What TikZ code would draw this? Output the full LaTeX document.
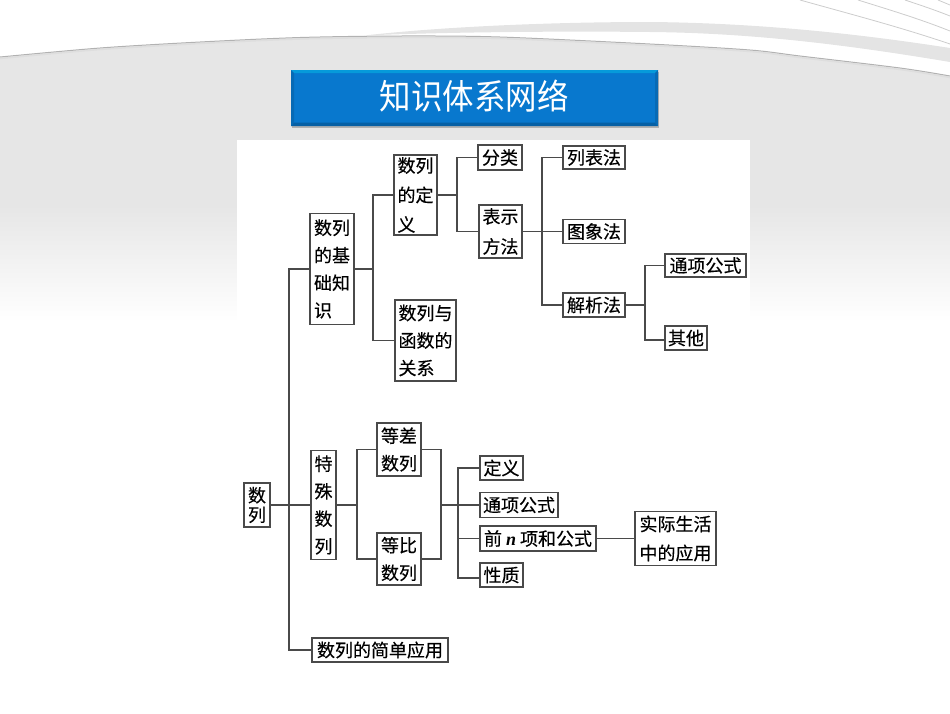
\documentclass[tikz,border=0pt]{standalone}
\usepackage{graphicx}
\usepackage{fontspec}
\setmainfont{Liberation Serif}
\newfontfamily\cjk{Noto Sans CJK SC}
\newfontfamily\cjkbox[RawFeature={embolden=0.35}]{Noto Sans CJK SC}
\definecolor{slide}{HTML}{E6E6E6}
\definecolor{band}{HTML}{E4E4E4}
\definecolor{titleblue}{HTML}{0878CE}
\definecolor{ink}{HTML}{4A4A4A}
\begin{document}
\begin{tikzpicture}[x=1pt,y=-1pt,
   box/.style={draw=ink,line width=1.4pt,fill=white,inner sep=0pt,align=left,
      font=\cjkbox\fontsize{18}{27.5}\selectfont},
   link/.style={draw=ink,line width=1.4pt},
   streak/.style={draw=black!20,line width=.8pt}]
\useasboundingbox (0,0) rectangle (950,713);
% slide background
\fill[slide] plot[smooth] coordinates {(0,57) (100,48) (200,42) (300,37.5) (400,36) (500,37) (650,44) (750,50) (800,56) (900,68) (950,76)}
   -- (950,206) -- (0,206) -- cycle;
\shade[top color=slide,bottom color=white] (0,205) rectangle (950,322);
\draw[black!30,line width=1pt] plot[smooth] coordinates {(0,57) (100,48) (200,42) (300,37.5) (400,36) (500,37) (650,44) (750,50) (800,56) (900,68) (950,76)};
\draw[black!13,line width=1.5pt] plot[smooth] coordinates {(0,58.5) (100,49.5) (200,43.5) (300,39) (400,37.5) (500,38.5) (650,45.5) (750,51.5) (800,57.5) (900,69.5) (950,77.5)};
\fill[band] (364,35.5) .. controls (450,26) and (560,22) .. (650,22)
   .. controls (760,23) and (860,34) .. (950,48) -- (950,62)
   .. controls (860,47) and (760,33) .. (650,32)
   .. controls (560,31) and (450,32) .. (364,35.5) -- cycle;
\draw[streak] (800,0) .. controls (850,14) and (900,27) .. (950,44);
\draw[streak] (858,0) .. controls (890,10) and (920,19) .. (950,31);
\draw[streak] (905,0) .. controls (920,5) and (935,10) .. (950,16);
\draw[streak] (938,0) -- (950,5);
% title bar
\fill[black!30] (292,72) rectangle (659,128);
\fill[titleblue] (291,70) rectangle (658,126);
\fill[titleblue!75!cyan] (291,70) -- (658,70) -- (655,73) -- (294,73) -- cycle;
\fill[titleblue!80!black] (291,126) -- (658,126) -- (655,122.5) -- (294,122.5) -- cycle;
\fill[titleblue!88!black] (291,70) -- (294,73) -- (294,122.5) -- (291,126) -- cycle;
\fill[titleblue!88!black] (658,70) -- (655,73) -- (655,122.5) -- (658,126) -- cycle;
\node[text=white,inner sep=0pt,font=\cjk\fontsize{31.5}{32}\selectfont] (title) at (474,96) {\scalebox{1}[1.1]{知识体系网络}};
% white panel
\fill[white] (237,140) rectangle (750,713);
% nodes
\node[box,minimum width=26pt,minimum height=44pt] (shulie) at (257,505) {数\\[-8pt]列};
\node[box,minimum width=44pt,minimum height=111pt] (jichu) at (332,269) {数列\\的基\\础知\\识};
\node[box,minimum width=25pt,minimum height=109pt] (teshu) at (323.5,505) {特\\殊\\数\\列};
\node[box,minimum width=136pt,minimum height=24pt] (yingyong) at (380,650) {数列的简单应用};
\node[box,minimum width=43pt,minimum height=80pt] (dingyi) at (415.5,195) {数列\\[2pt]的定\\[2pt]义};
\node[box,minimum width=61pt,minimum height=81pt] (guanxi) at (425.5,340.5) {数列与\\函数的\\关系};
\node[box,minimum width=44pt,minimum height=25pt] (fenlei) at (500,157.5) {分类};
\node[box,minimum width=43pt,minimum height=53pt] (biaoshi) at (500.5,231.5) {表示\\[2.5pt]方法};
\node[box,minimum width=62pt,minimum height=23pt] (liebiao) at (594,157.5) {列表法};
\node[box,minimum width=62pt,minimum height=24pt] (tuxiang) at (594,231.5) {图象法};
\node[box,minimum width=62pt,minimum height=24pt] (jiexi) at (594,305) {解析法};
\node[box,minimum width=81pt,minimum height=23pt] (tongxiang) at (705.5,265.5) {通项公式};
\node[box,minimum width=42pt,minimum height=24pt] (qita) at (686,338) {其他};
\node[box,minimum width=44pt,minimum height=53pt] (dengcha) at (399,449.5) {等差\\数列};
\node[box,minimum width=44pt,minimum height=52pt] (dengbi) at (399,559) {等比\\数列};
\node[box,minimum width=43pt,minimum height=24pt] (dingyib) at (501.5,468) {定义};
\node[box,minimum width=78pt,minimum height=25pt] (tongxiangb) at (519,505) {通项公式};
\node[box,minimum width=116pt,minimum height=25pt] (qianxiang) at (538,538.5) {前 {\rmfamily\itshape\bfseries n} 项和公式};
\node[box,minimum width=43pt,minimum height=24pt] (xingzhi) at (501.5,575) {性质};
\node[box,minimum width=81pt,minimum height=54pt] (shiji) at (675.5,538.5) {实际生活\\[1.5pt]中的应用};
% junctions of the connectors
\coordinate (busa) at (289,505);
\coordinate (busb) at (373,269);
\coordinate (busc) at (457,195);
\coordinate (busd) at (542,231.5);
\coordinate (buse) at (645,305);
\coordinate (busf) at (357,505);
\coordinate (busg) at (441,505);
\coordinate (bush) at (458,505);
% connectors
\draw[link] (shulie.east) -- (teshu.west);
\draw[link] (jichu.west) -| (busa);
\draw[link] (yingyong.west) -| (busa);
\draw[link] (jichu.east) -- (busb);
\draw[link] (dingyi.west) -| (busb);
\draw[link] (guanxi.west) -| (busb);
\draw[link] (dingyi.east) -- (busc);
\draw[link] (fenlei.west) -| (busc);
\draw[link] (biaoshi.west) -| (busc);
\draw[link] (biaoshi.east) -- (tuxiang.west);
\draw[link] (liebiao.west) -| (busd);
\draw[link] (jiexi.west) -| (busd);
\draw[link] (jiexi.east) -- (buse);
\draw[link] (tongxiang.west) -| (buse);
\draw[link] ([yshift=-2pt]qita.west) -| (buse);
\draw[link] (teshu.east) -- (busf);
\draw[link] (dengcha.west) -| (busf);
\draw[link] (dengbi.west) -| (busf);
\draw[link] (dengcha.east) -| (busg);
\draw[link] (dengbi.east) -| (busg);
\draw[link] (busg) -- (tongxiangb.west);
\draw[link] (dingyib.west) -| (bush);
\draw[link] (qianxiang.west) -| (bush);
\draw[link] ([yshift=-3pt]xingzhi.west) -| (bush);
\draw[link] (qianxiang.east) -- (shiji.west);
\end{tikzpicture}
\end{document}
